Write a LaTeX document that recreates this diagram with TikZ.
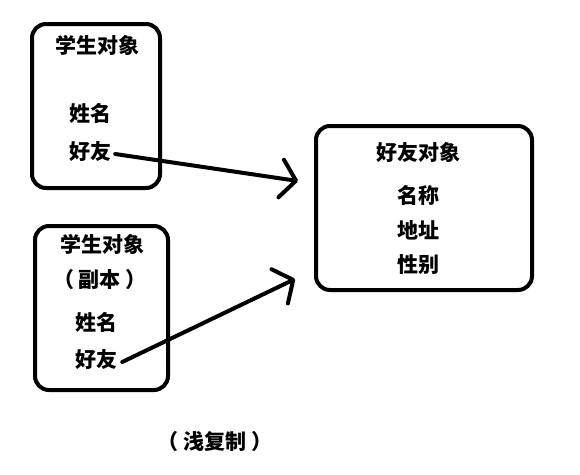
\documentclass[tikz,border=0pt]{standalone}
\usepackage{fontspec}
\setmainfont{Noto Sans CJK SC}
\usetikzlibrary{arrows.meta}
\begin{document}
\begin{tikzpicture}[x=1pt,y=-1pt,
  objbox/.style={draw=black,line width=4pt,rounded corners=14pt,inner sep=0pt,anchor=north west},
  lbl/.style={font=\fontsize{21}{21}\selectfont\bfseries,inner sep=0pt,text=black},
  ref/.style={line width=4pt,line cap=round,line join=round,-{Straight Barb[length=15pt,width=38pt,line cap=round,line join=round]}}]
\useasboundingbox (0,0) rectangle (580,474);
% boxes
\node[objbox,minimum width=128pt,minimum height=164pt] (s1) at (30,22) {};
\node[objbox,minimum width=133pt,minimum height=164pt] (s2) at (33,224) {};
\node[objbox,minimum width=216pt,minimum height=164pt] (fr) at (314,124) {};
% student object
\node[lbl] (t1) at (97,45) {学生对象};
\node[lbl] (n1) at (90,113) {姓名};
\node[lbl] (f1) at (90,152) {好友};
% copy
\node[lbl] (t2) at (102,244) {学生对象};
\node[lbl] (c2) at (100,280) {（\hspace{5pt}副本\hspace{5pt}）};
\node[lbl] (n2) at (96,322) {姓名};
\node[lbl] (f2) at (96,360) {好友};
% friend object
\node[lbl] (t3) at (418,152) {好友对象};
\node[lbl] (a3) at (418,195) {名称};
\node[lbl] (b3) at (418,230) {地址};
\node[lbl] (g3) at (418,265) {性别};
% caption
\node[lbl] (cap) at (215,442) {（\hspace{5pt}浅复制\hspace{5pt}）};
% arrows
\coordinate (e1) at (298,181);
\coordinate (e2) at (295,279);
\draw[ref] ([xshift=4pt,yshift=-2pt]f1.east) -- (e1);
\draw[ref] ([xshift=5pt,yshift=-2pt]f2.east) -- (e2);
\end{tikzpicture}
\end{document}
